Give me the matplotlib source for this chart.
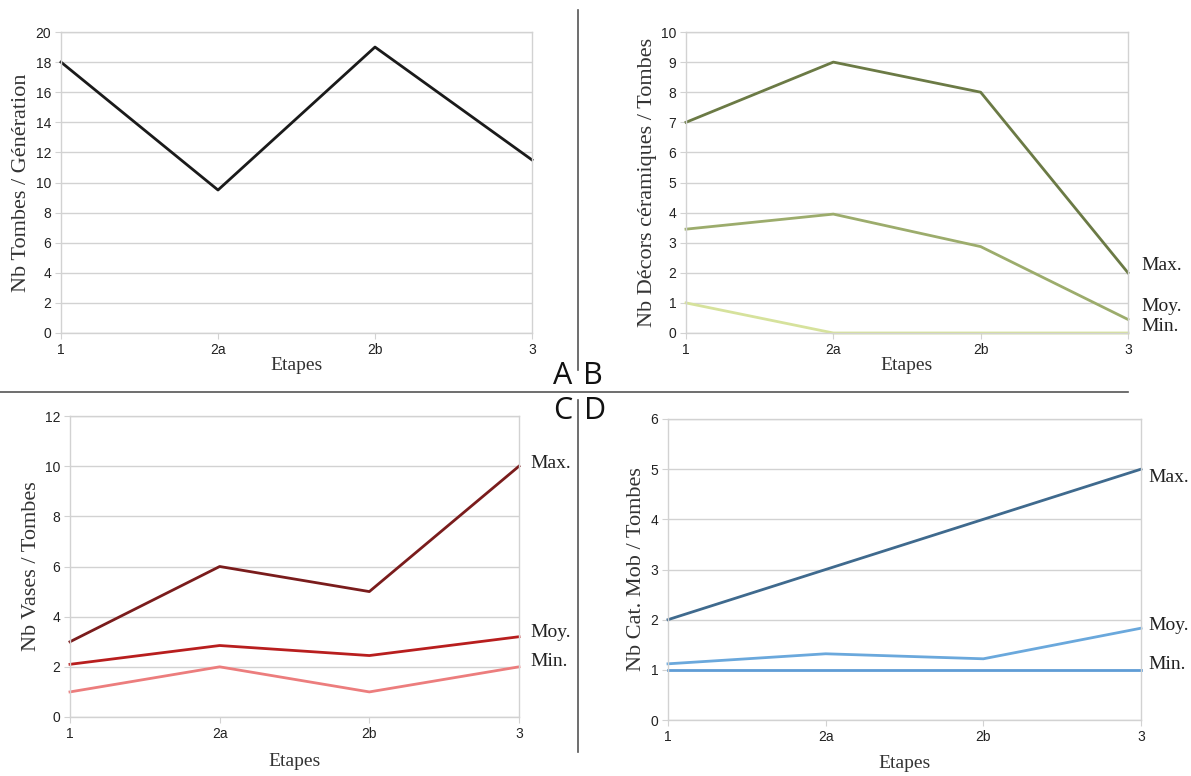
import matplotlib
matplotlib.use("Agg")
import matplotlib.pyplot as plt
from matplotlib.lines import Line2D

etapes = ["1", "2a", "2b", "3"]

# Panel A
tombes_generation = [18, 9.5, 19, 11.5]

# Panel B
decors_max = [7, 9, 8, 2]
decors_moy = [3.45, 3.95, 2.87, 0.45]
decors_min = [1, 0, 0, 0]

# Panel C
vases_max = [3, 6, 5, 10]
vases_moy = [2.1, 2.85, 2.45, 3.2]
vases_min = [1, 2, 1, 2]

# Panel D
catmob_max = [2, 3, 4, 5]
catmob_moy = [1.12, 1.32, 1.22, 1.83]
catmob_min = [1, 1, 1, 1]

serie_labels = ["Max.", "Moy.", "Min."]

W, H = 1191, 776
fig = plt.figure(figsize=(W / 100, H / 100), dpi=100)
fig.patch.set_facecolor("white")

SERIF = "Liberation Serif"
SANS = "Liberation Sans"
GRID = "#d2d2d2"


def make_ax(l, r, t, b, ymax, ystep, ylabel, xpad):
    ax = fig.add_axes([l / W, 1 - b / H, (r - l) / W, (b - t) / H])
    x = list(range(len(etapes)))
    ax.set_xlim(0, len(etapes) - 1)
    ax.set_ylim(0, ymax)
    ax.set_xticks(x)
    ax.set_xticklabels(etapes, fontsize=10, family=SANS, color="#222222")
    yt = [i * ystep for i in range(int(round(ymax / ystep)) + 1)]
    ax.set_yticks(yt)
    ax.set_yticklabels([f"{v:g}" for v in yt], fontsize=10, family=SANS, color="#222222")
    ax.yaxis.grid(True, color=GRID, lw=1)
    ax.set_axisbelow(True)
    for s in ax.spines.values():
        s.set_color(GRID)
        s.set_linewidth(1)
    ax.tick_params(axis="both", length=4, color=GRID, pad=3)
    ax.set_xlabel("Etapes", family=SERIF, fontsize=14, color="#333333", labelpad=xpad)
    ax.set_ylabel(ylabel, family=SERIF, fontsize=16, color="#333333", labelpad=3)
    return ax, x


# Panel A
axA, x = make_ax(61, 532, 32, 333, 20, 2, "Nb Tombes / Génération", 0)
axA.plot(x, tombes_generation, color="#1a1a1a", lw=2, clip_on=False)

# Panel B
axB, x = make_ax(686, 1128, 32, 333, 10, 1, "Nb Décors céramiques / Tombes", 0)
colsB = ["#6b7a45", "#9cac6c", "#d6e29c"]
offB = [(10, 5), (10, 9), (10, 5)]
for ys, c, lab, off in zip([decors_max, decors_moy, decors_min], colsB, serie_labels, offB):
    axB.plot(x, ys, color=c, lw=2, clip_on=False)
    axB.annotate(lab, (x[-1], ys[-1]), xytext=off, textcoords="offset points",
                 family=SERIF, fontsize=14, color="#222222", va="center", ha="left",
                 annotation_clip=False)

# Panel C
axC, x = make_ax(70, 519, 416, 717, 12, 2, "Nb Vases / Tombes", 9)
colsC = ["#7a1c1c", "#b81e1e", "#ec7d7d"]
offC = [(8, 2), (8, 3), (8, 4)]
for ys, c, lab, off in zip([vases_max, vases_moy, vases_min], colsC, serie_labels, offC):
    axC.plot(x, ys, color=c, lw=2, clip_on=False)
    axC.annotate(lab, (x[-1], ys[-1]), xytext=off, textcoords="offset points",
                 family=SERIF, fontsize=14, color="#222222", va="center", ha="left",
                 annotation_clip=False)

# Panel D
axD, x = make_ax(668, 1141, 419, 720, 6, 1, "Nb Cat. Mob / Tombes", 8)
colsD = ["#3f6a8e", "#6aa8dc", "#5f9dd6"]
offD = [(5, -6), (5, 2), (5, 4)]
for ys, c, lab, off in zip([catmob_max, catmob_moy, catmob_min], colsD, serie_labels, offD):
    axD.plot(x, ys, color=c, lw=2, clip_on=False)
    axD.annotate(lab, (x[-1], ys[-1]), xytext=off, textcoords="offset points",
                 family=SERIF, fontsize=14, color="#222222", va="center", ha="left",
                 annotation_clip=False)

# Dividers
line_col = "#555555"
fig.add_artist(Line2D([578 / W, 578 / W], [1 - 10 / H, 1 - 370 / H], color=line_col, lw=1.2))
fig.add_artist(Line2D([578 / W, 578 / W], [1 - 400 / H, 1 - 752 / H], color=line_col, lw=1.2))
fig.add_artist(Line2D([0, 1128 / W], [1 - 392 / H, 1 - 392 / H], color=line_col, lw=1.2))

for letter, px, py in [("A", 563, 376), ("B", 593, 376), ("C", 563, 411), ("D", 595, 411)]:
    fig.text(px / W, 1 - py / H, letter, family="Open Sans", fontsize=22,
             color="#111111", ha="center", va="center")

fig.savefig("out.png", dpi=100, facecolor="white")
